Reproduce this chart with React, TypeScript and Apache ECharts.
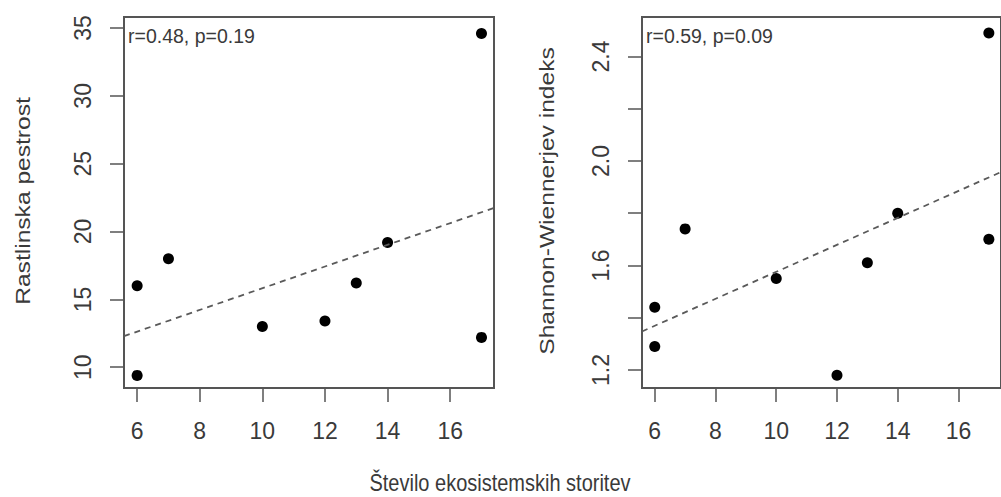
import React, { useEffect, useRef } from "react";
import * as echarts from "echarts";

// ---- data ----
const services = [6, 6, 7, 10, 12, 13, 14, 17, 17];
const richness = [16.0, 9.4, 18.0, 13.0, 13.4, 16.2, 19.2, 12.2, 34.6];
const shannon = [1.44, 1.29, 1.74, 1.55, 1.18, 1.61, 1.8, 1.7, 2.49];

const xTicks = [6, 8, 10, 12, 14, 16];
const richnessTicks = [10, 15, 20, 25, 30, 35];
const shannonTicks = [1.2, 1.4, 1.6, 1.8, 2.0, 2.2, 2.4];
const shannonLabels = [1.2, 1.6, 2.0, 2.4];

const xRange = [5.58, 17.4];
const richnessRange = [8.47, 35.81];
const shannonRange = [1.131, 2.551];

const annotations = ["r=0.48, p=0.19", "r=0.59, p=0.09"];
const yTitles = ["Rastlinska pestrost", "Shannon-Wiennerjev indeks"];
const xTitle = "Število ekosistemskih storitev";

const FONT = "'Liberation Sans', Arial, Helvetica, sans-serif";
const TEXT = "#3a3a3a";
const FRAME = "#555555";

function fitLine(xs: number[], ys: number[]) {
  const n = xs.length;
  const mx = xs.reduce((a, b) => a + b, 0) / n;
  const my = ys.reduce((a, b) => a + b, 0) / n;
  let sxy = 0;
  let sxx = 0;
  for (let i = 0; i < n; i++) {
    sxy += (xs[i] - mx) * (ys[i] - my);
    sxx += (xs[i] - mx) * (xs[i] - mx);
  }
  const b = sxy / sxx;
  const a = my - b * mx;
  return xRange.map((x) => [x, a + b * x]);
}

export default function App() {
  const ref = useRef<HTMLDivElement>(null);

  useEffect(() => {
    document.body.style.margin = "0";
    if (!ref.current) return;
    const chart = echarts.init(ref.current, undefined, { renderer: "svg" });

    const gridBase = {
      top: 17,
      height: 371,
      show: true,
      borderColor: FRAME,
      borderWidth: 2,
      backgroundColor: "transparent",
    };

    const xAxisBase = (gridIndex: number) => ({
      type: "value",
      gridIndex,
      min: xRange[0],
      max: xRange[1],
      splitLine: { show: false },
      axisLine: { show: false },
      axisTick: {
        show: true,
        length: 14,
        customValues: xTicks,
        lineStyle: { color: FRAME, width: 1.5 },
      },
      axisLabel: {
        customValues: xTicks,
        margin: 31,
        fontSize: 23,
        fontFamily: FONT,
        color: TEXT,
      },
    });

    const scatterStyle = { color: "#000000", opacity: 1 };
    const lineStyle = { color: "#5a5a5a", width: 1.8, type: [6, 5] as number[] };

    const pts = (ys: number[]) => services.map((x, i) => [x, ys[i]]);

    chart.setOption({
      animation: false,
      backgroundColor: "#ffffff",
      grid: [
        { ...gridBase, left: 124, width: 370 },
        { ...gridBase, left: 642, width: 368 },
      ],
      xAxis: [xAxisBase(0), xAxisBase(1)],
      yAxis: [
        {
          type: "value",
          gridIndex: 0,
          min: richnessRange[0],
          max: richnessRange[1],
          splitLine: { show: false },
          axisLine: { show: false },
          axisTick: {
            show: true,
            length: 14,
            customValues: richnessTicks,
            lineStyle: { color: FRAME, width: 1.5 },
          },
          axisLabel: {
            customValues: richnessTicks,
            rotate: 90,
            margin: 30,
            fontSize: 23,
            fontFamily: FONT,
            color: TEXT,
          },
        },
        {
          type: "value",
          gridIndex: 1,
          min: shannonRange[0],
          max: shannonRange[1],
          splitLine: { show: false },
          axisLine: { show: false },
          axisTick: {
            show: true,
            length: 14,
            customValues: shannonTicks,
            lineStyle: { color: FRAME, width: 1.5 },
          },
          axisLabel: {
            customValues: shannonLabels,
            rotate: 90,
            margin: 30,
            fontSize: 23,
            fontFamily: FONT,
            color: TEXT,
            formatter: (v: number) => v.toFixed(1),
          },
        },
      ],
      series: [
        {
          type: "line",
          xAxisIndex: 0,
          yAxisIndex: 0,
          data: fitLine(services, richness),
          symbol: "none",
          lineStyle,
          silent: true,
        },
        {
          type: "line",
          xAxisIndex: 1,
          yAxisIndex: 1,
          data: fitLine(services, shannon),
          symbol: "none",
          lineStyle,
          silent: true,
        },
        {
          type: "scatter",
          xAxisIndex: 0,
          yAxisIndex: 0,
          data: pts(richness),
          symbol: "circle",
          symbolSize: 11,
          itemStyle: scatterStyle,
        },
        {
          type: "scatter",
          xAxisIndex: 1,
          yAxisIndex: 1,
          data: pts(shannon),
          symbol: "circle",
          symbolSize: 11,
          itemStyle: scatterStyle,
        },
      ],
      graphic: [
        {
          type: "text",
          x: 128,
          y: 36,
          style: {
            text: annotations[0],
            fontSize: 19.5,
            fontFamily: FONT,
            fill: TEXT,
            align: "left",
            verticalAlign: "middle",
          },
        },
        {
          type: "text",
          x: 646,
          y: 36,
          style: {
            text: annotations[1],
            fontSize: 19.5,
            fontFamily: FONT,
            fill: TEXT,
            align: "left",
            verticalAlign: "middle",
          },
        },
        {
          type: "text",
          x: 23,
          y: 201,
          rotation: Math.PI / 2,
          scaleX: 1.2,
          style: {
            text: yTitles[0],
            fontSize: 20.5,
            fontFamily: FONT,
            fill: TEXT,
            align: "center",
            verticalAlign: "middle",
          },
        },
        {
          type: "text",
          x: 547,
          y: 201,
          rotation: Math.PI / 2,
          scaleX: 1.2,
          style: {
            text: yTitles[1],
            fontSize: 20.5,
            fontFamily: FONT,
            fill: TEXT,
            align: "center",
            verticalAlign: "middle",
          },
        },
        {
          type: "text",
          x: 500,
          y: 483,
          scaleY: 1.2,
          style: {
            text: xTitle,
            fontSize: 20,
            fontFamily: FONT,
            fill: TEXT,
            align: "center",
            verticalAlign: "middle",
          },
        },
      ],
    });

    return () => {
      chart.dispose();
    };
  }, []);

  return <div ref={ref} style={{ width: 1001, height: 497 }} />;
}
